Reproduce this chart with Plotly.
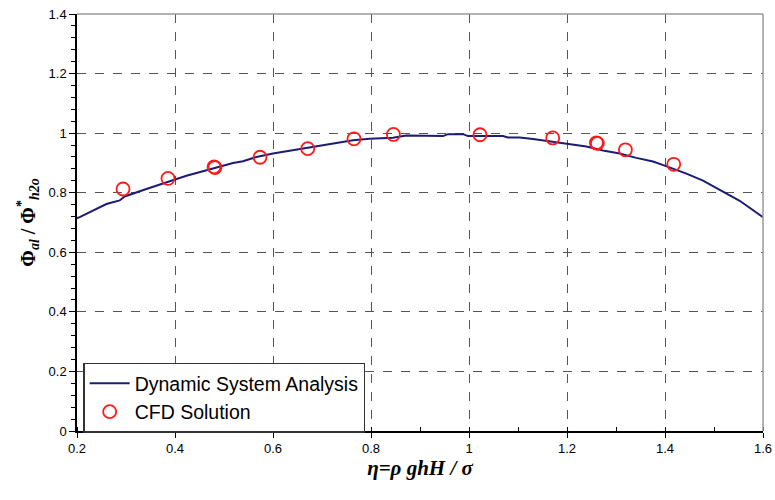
import plotly.graph_objects as go

# Dynamic System Analysis curve
dsa_x = [0.1714, 0.1933, 0.2055, 0.2361, 0.26, 0.2871, 0.2973, 0.3416, 0.3994, 0.4233, 0.4776, 0.5184,
         0.5388, 0.5661, 0.6, 0.6816, 0.7224, 0.7633, 0.7973, 0.8449, 0.8722, 0.9198, 0.947, 0.9571,
         0.9878, 0.998, 1.0694, 1.0796, 1.1035, 1.1306, 1.1994, 1.2396, 1.2735, 1.3076, 1.3416, 1.3755,
         1.3994, 1.4437, 1.4776, 1.5184, 1.5524, 1.6]
dsa_y = [0.689, 0.711, 0.718, 0.743, 0.762, 0.774, 0.7875, 0.8125, 0.844, 0.857, 0.881, 0.900,
         0.9056, 0.920, 0.9316, 0.9528, 0.9642, 0.976, 0.981, 0.9845, 0.992, 0.992, 0.990, 0.9966,
         0.9966, 0.990, 0.990, 0.9855, 0.9855, 0.980, 0.964, 0.955, 0.9416, 0.9315, 0.917, 0.9046,
         0.891, 0.864, 0.8405, 0.804, 0.773, 0.718]

# CFD solution points
cfd_x = [0.2939, 0.3857, 0.4796, 0.4816, 0.5735, 0.6708, 0.7653, 0.8457, 1.0224, 1.1708, 1.26, 1.262, 1.3192, 1.4178]
cfd_y = [0.8125, 0.848, 0.8867, 0.8847, 0.919, 0.948, 0.981, 0.9956, 0.9946, 0.984, 0.9676, 0.9656, 0.944, 0.8954]

x_ticks = [0.2, 0.4, 0.6, 0.8, 1.0, 1.2, 1.4, 1.6]
y_ticks = [0, 0.2, 0.4, 0.6, 0.8, 1.0, 1.2, 1.4]

fig = go.Figure()
fig.add_trace(go.Scatter(x=dsa_x, y=dsa_y, mode="lines", name="Dynamic System Analysis",
                         line=dict(color="#1c1c74", width=2)))
fig.add_trace(go.Scatter(x=cfd_x, y=cfd_y, mode="markers", name="CFD Solution",
                         marker=dict(symbol="circle-open", size=13, color="#ff1a1a", line=dict(width=1.8))))

axis_font = dict(family="Liberation Sans, Arial, sans-serif", size=13, color="#000")

fig.update_layout(
    width=775, height=500,
    margin=dict(l=77, r=12, t=14, b=69, autoexpand=False),
    paper_bgcolor="white", plot_bgcolor="white",
    font=axis_font,
    showlegend=True,
    legend=dict(x=0.009, y=0.164, xanchor="left", yanchor="top",
                bgcolor="white", bordercolor="#333", borderwidth=1.5,
                font=dict(family="Liberation Sans, Arial, sans-serif", size=19.5, color="#000"),
                itemwidth=40, tracegroupgap=0),
    xaxis=dict(range=[0.2, 1.6], tickvals=x_ticks, ticktext=[f"{v:g}" for v in x_ticks],
               showgrid=True, gridcolor="#555", griddash="dash", gridwidth=1,
               showline=True, linecolor="#000", linewidth=1.5,
               ticks="outside", ticklen=5, tickcolor="#000",
               minor=dict(dtick=0.1, ticks="inside", ticklen=4, tickcolor="#000", showgrid=False),
               zeroline=False, tickfont=axis_font, automargin=False, ticklabeloverflow="allow",
               title=dict(text="<b><i>η=ρ ghH / σ</i></b>",
                          font=dict(family="Liberation Serif, Times New Roman, serif", size=21, color="#000"),
                          standoff=4)),
    yaxis=dict(range=[0, 1.4], tickvals=y_ticks, ticktext=[f"{v:g}" for v in y_ticks],
               showgrid=True, gridcolor="#555", griddash="dash", gridwidth=1,
               showline=True, linecolor="#000", linewidth=1.5,
               ticks="outside", ticklen=6, tickcolor="#000",
               minor=dict(dtick=0.04, ticks="outside", ticklen=4, tickcolor="#000", showgrid=False),
               zeroline=False, tickfont=axis_font, automargin=False, ticklabeloverflow="allow",
               title=dict(text="<b>Φ<sub><i>al</i></sub> / Φ<sup>*</sup><sub><i>h2o</i></sub></b>",
                          font=dict(family="Liberation Serif, Times New Roman, serif", size=20, color="#000"),
                          standoff=8)),
    shapes=[
        dict(type="line", xref="paper", yref="paper", x0=0, x1=1, y0=1, y1=1,
             line=dict(color="#999", width=1.5)),
        dict(type="line", xref="paper", yref="paper", x0=1, x1=1, y0=0, y1=1,
             line=dict(color="#999", width=1.5)),
    ],
)

# remove the default 8px page margin so the figure sits at the window's top-left corner
fig.write_html("out.html", config={"displayModeBar": False},
               post_script="document.body.style.margin='0';")
